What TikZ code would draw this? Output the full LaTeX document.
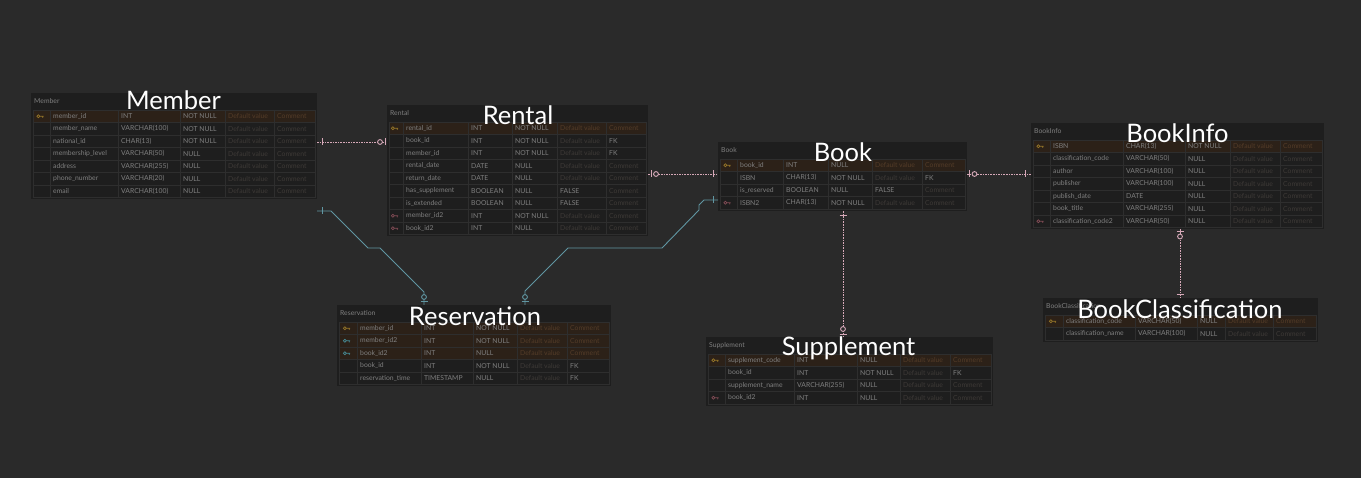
\documentclass[tikz,border=0pt]{standalone}
\usepackage{fontspec}
\setmainfont{Lato}
\usetikzlibrary{calc}
\definecolor{bgc}{RGB}{42,42,42}
\definecolor{tblc}{RGB}{30,30,30}
\definecolor{gridc}{RGB}{46,46,46}
\definecolor{pkc}{RGB}{44,33,24}
\definecolor{txtc}{RGB}{128,128,128}
\definecolor{dimc}{RGB}{62,58,55}
\definecolor{dimpkc}{RGB}{84,60,40}
\definecolor{goldc}{RGB}{150,118,40}
\definecolor{tealkc}{RGB}{70,140,150}
\definecolor{pinkkc}{RGB}{130,75,85}
\definecolor{relpinkc}{RGB}{214,168,184}
\definecolor{reltealc}{RGB}{96,150,162}
\tikzset{
  tablebox/.style={fill=tblc, draw=none, inner sep=0pt, outer sep=0pt},
  celltxt/.style={text=txtc, font=\fontsize{6.8}{7}\selectfont, anchor=west, inner sep=0pt},
  dimtxt/.style={celltxt, text=dimc},
  dimpktxt/.style={celltxt, text=dimpkc},
  hdrtxt/.style={celltxt, text=txtc},
  gridline/.style={draw=gridc, line width=0.5pt},
  biglabel/.style={text=white, font=\fontsize{25.5}{25.5}\selectfont, anchor=base, inner sep=0pt},
  relpink/.style={draw=relpinkc, line width=0.9pt, dash pattern=on 1.6pt off 1pt},
  relpinkend/.style={draw=relpinkc, line width=0.9pt},
  relteal/.style={draw=reltealc, line width=0.9pt},
}
\newcommand\erdcols[5]{\def\cA{#1}\def\cB{#2}\def\cC{#3}\def\cD{#4}\def\cE{#5}}
\def\Dmark{D}\def\Cmark{C}
\newcommand\keyicon[3]{%
  \draw[#3, line width=0.7pt] (#1-2.2,#2) circle (1.5) (#1-0.7,#2) -- (#1+3.2,#2) (#1+2.2,#2) -- (#1+2.2,#2+1.6);}
\newcommand\erdtable[6]{%
  \foreach \rn/\rt/\ru/\rd/\rc/\rk [count=\ri] in {#6} {\xdef\nrows{\ri}}%
  \pgfmathsetmacro\tblh{17+\nrows*12.5+2}%
  \node[tablebox, anchor=north west, minimum width={(#4-#2)*1pt}, minimum height={\tblh*1pt}] (#1) at (#2,#3) {};
  \node[hdrtxt] (#1-hdr) at (#2+3,#3+8.5) {#5};
  \foreach \rn/\rt/\ru/\rd/\rc/\rk [count=\ri] in {#6} {
    \pgfmathsetmacro\yt{#3+17+(\ri-1)*12.5}
    \pgfmathsetmacro\yc{\yt+6.25}
    \pgfmathsetmacro\yb{\yt+12.5}
    \pgfmathsetmacro\xi{(#2+\cA)/2}
    \tikzset{curdim/.style={dimtxt}}
    \ifnum\rk>0 \ifnum\rk<3
      \fill[pkc] (#2+2,\yt) rectangle (#4-2,\yb);
      \tikzset{curdim/.style={dimpktxt}}
    \fi\fi
    \draw[gridline] (#2+2,\yt) rectangle (#4-2,\yb);
    \foreach \cx in {\cA,\cB,\cC,\cD,\cE} {\draw[gridline] (\cx,\yt) -- (\cx,\yb);}
    \ifnum\rk=1 \keyicon{\xi}{\yc}{goldc}\fi
    \ifnum\rk=2 \keyicon{\xi}{\yc}{tealkc}\fi
    \ifnum\rk=3 \keyicon{\xi}{\yc}{pinkkc}\fi
    \node[celltxt] (#1-\ri-n) at (\cA+3,\yc) {\rn};
    \node[celltxt] (#1-\ri-t) at (\cB+3,\yc) {\rt};
    \node[celltxt] (#1-\ri-u) at (\cC+3,\yc) {\ru};
    \edef\tmpd{\rd}\edef\tmpc{\rc}
    \ifx\tmpd\Dmark \node[curdim] (#1-\ri-d) at (\cD+3,\yc) {Default value};
    \else \node[celltxt] (#1-\ri-d) at (\cD+3,\yc) {\rd};\fi
    \ifx\tmpc\Cmark \node[curdim] (#1-\ri-c) at (\cE+3,\yc) {Comment};
    \else \node[celltxt] (#1-\ri-c) at (\cE+3,\yc) {\rc};\fi
  }
}
\begin{document}
\begin{tikzpicture}[x=1pt, y=-1pt]
\fill[bgc] (0,0) rectangle (1361,478);
\useasboundingbox (0,0) rectangle (1361,478);

% ---------- tables ----------
\erdcols{50}{118}{180}{225}{274}
\erdtable{member}{31}{93}{317}{Member}{
  member\_id/INT/NOT NULL/D/C/1,
  member\_name/VARCHAR(100)/NOT NULL/D/C/0,
  national\_id/CHAR(13)/NOT NULL/D/C/0,
  membership\_level/VARCHAR(50)/NULL/D/C/0,
  address/VARCHAR(255)/NULL/D/C/0,
  phone\_number/VARCHAR(20)/NULL/D/C/0,
  email/VARCHAR(100)/NULL/D/C/0}

\erdcols{403}{468}{512}{557}{606}
\erdtable{rental}{387}{105}{648}{Rental}{
  rental\_id/INT/NOT NULL/D/C/1,
  book\_id/INT/NOT NULL/D/FK/0,
  member\_id/INT/NOT NULL/D/FK/0,
  rental\_date/DATE/NULL/D/C/0,
  return\_date/DATE/NULL/D/C/0,
  has\_supplement/BOOLEAN/NULL/FALSE/C/0,
  is\_extended/BOOLEAN/NULL/FALSE/C/0,
  member\_id2/INT/NOT NULL/D/C/3,
  book\_id2/INT/NULL/D/C/3}

\erdcols{737}{783}{828}{872}{922}
\erdtable{book}{718}{142}{967}{Book}{
  book\_id/INT/NULL/D/C/1,
  ISBN/CHAR(13)/NOT NULL/D/FK/0,
  is\_reserved/BOOLEAN/NULL/FALSE/C/0,
  ISBN2/CHAR(13)/NOT NULL/D/C/3}

\erdcols{1050}{1123}{1185}{1230}{1280}
\erdtable{bookinfo}{1031}{123}{1324}{BookInfo}{
  ISBN/CHAR(13)/NOT NULL/D/C/1,
  classification\_code/VARCHAR(50)/NULL/D/C/0,
  author/VARCHAR(100)/NULL/D/C/0,
  publisher/VARCHAR(100)/NULL/D/C/0,
  publish\_date/DATE/NULL/D/C/0,
  book\_title/VARCHAR(255)/NULL/D/C/0,
  classification\_code2/VARCHAR(50)/NULL/D/C/3}

\erdcols{1063}{1135}{1197}{1225}{1273}
\erdtable{bookclass}{1043}{298}{1318}{BookClassification}{
  classification\_code/VARCHAR(50)/NULL/D/C/1,
  classification\_name/VARCHAR(100)/NULL/D/C/0}

\erdcols{357}{421}{473}{517}{567}
\erdtable{reservation}{337}{305}{611}{Reservation}{
  member\_id/INT/NOT NULL/D/C/1,
  member\_id2/INT/NOT NULL/D/C/2,
  book\_id2/INT/NULL/D/C/2,
  book\_id/INT/NOT NULL/D/FK/0,
  reservation\_time/TIMESTAMP/NULL/D/FK/0}

\erdcols{725}{794}{857}{900}{950}
\erdtable{supplement}{706}{337}{993}{Supplement}{
  supplement\_code/INT/NULL/D/C/1,
  book\_id/INT/NOT NULL/D/FK/0,
  supplement\_name/VARCHAR(255)/NULL/D/C/0,
  book\_id2/INT/NULL/D/C/3}

% ---------- pink relations ----------
\draw[relpink] (member.east |- 0,142) -- (rental.west |- 0,142);
\draw[relpinkend] (322,138.5) -- (322,145.5);
\draw[relpinkend, fill=bgc] (380,142) circle (2.4);
\draw[relpinkend] (385,138.5) -- (385,145.5);

\draw[relpink] (rental.east |- 0,174) -- (book.west |- 0,174);
\draw[relpinkend] (651,170.5) -- (651,177.5);
\draw[relpinkend, fill=bgc] (656,174) circle (2.4);
\draw[relpinkend] (713,170.5) -- (713,177.5);

\draw[relpink] (book.east |- 0,174) -- (bookinfo.west |- 0,174);
\draw[relpinkend] (969.5,170.5) -- (969.5,177.5);
\draw[relpinkend, fill=bgc] (974.5,174) circle (2.4);
\draw[relpinkend] (1025,170.5) -- (1025,177.5);

\draw[relpink] (bookinfo.south -| 1180,0) -- (bookclass.north -| 1180,0);
\draw[relpinkend] (1176.5,231.5) -- (1183.5,231.5);
\draw[relpinkend, fill=bgc] (1180,236.5) circle (2.4);
\draw[relpinkend] (1176.5,294) -- (1183.5,294);

\draw[relpink] (book.south -| 843,0) -- (supplement.north -| 843,0);
\draw[relpinkend] (839.5,215) -- (846.5,215);
\draw[relpinkend, fill=bgc] (843,329) circle (2.4);
\draw[relpinkend] (839.5,334) -- (846.5,334);

% ---------- teal relations ----------
\draw[relteal] (member.east |- 0,211) -- (331,211) -- (368,248) -- (380,248) -- (424,292) -- (reservation.north -| 424,0);
\draw[relteal] (322,207.5) -- (322,214.5);
\draw[relteal, fill=bgc] (424,297) circle (2.4);
\draw[relteal] (420.5,301.5) -- (427.5,301.5);

\draw[relteal] (book.west |- 0,200) -- (704,200) -- (699,205) -- (699,210) -- (662,248) -- (568,248) -- (525,291) -- (reservation.north -| 525,0);
\draw[relteal] (713,196.5) -- (713,203.5);
\draw[relteal, fill=bgc] (525,297) circle (2.4);
\draw[relteal] (521.5,301.5) -- (528.5,301.5);

% ---------- big labels ----------
\node[biglabel] (lbl-member) at (173.5,110) {Member};
\node[biglabel] (lbl-rental) at (518,124.5) {Rental};
\node[biglabel] (lbl-book) at (843,162) {Book};
\node[biglabel] (lbl-bookinfo) at (1177.5,143) {BookInfo};
\node[biglabel] (lbl-bookclass) at (1180,318.5) {BookClassification};
\node[biglabel] (lbl-reservation) at (475,326) {Reservation};
\node[biglabel] (lbl-supplement) at (848.5,356) {Supplement};
\end{tikzpicture}
\end{document}
